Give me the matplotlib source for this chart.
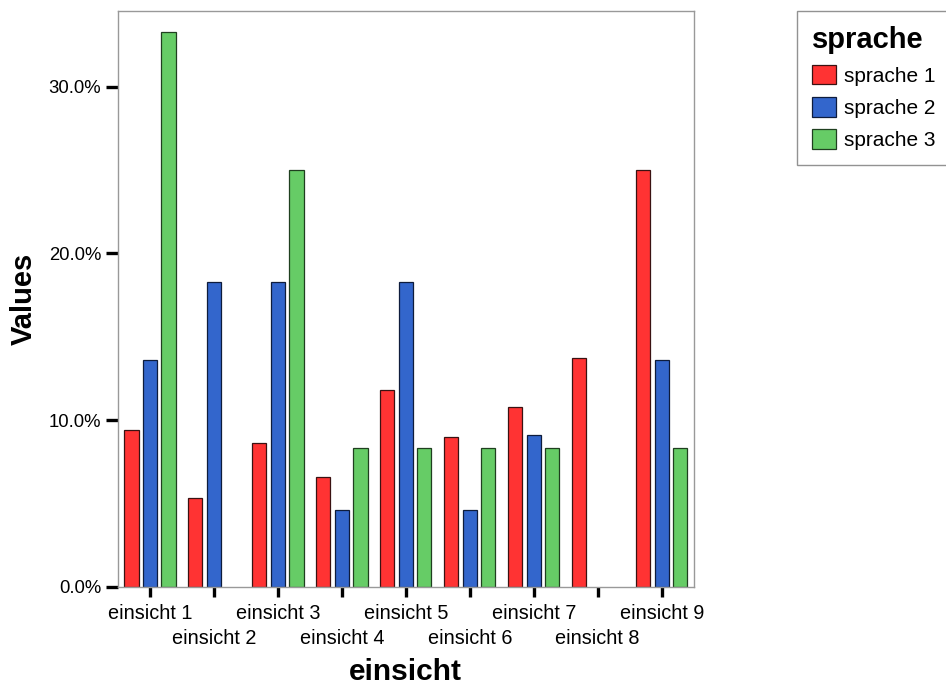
import matplotlib.pyplot as plt
import numpy as np
from matplotlib.ticker import FuncFormatter

plt.rcParams['font.family'] = ['Liberation Sans', 'DejaVu Sans']

categories = ['einsicht 1', 'einsicht 2', 'einsicht 3', 'einsicht 4', 'einsicht 5',
              'einsicht 6', 'einsicht 7', 'einsicht 8', 'einsicht 9']
series = ['sprache 1', 'sprache 2', 'sprache 3']
sprache1 = [9.4, 5.3, 8.6, 6.6, 11.8, 9.0, 10.8, 13.7, 25.0]
sprache2 = [13.6, 18.3, 18.3, 4.6, 18.3, 4.6, 9.1, 0.0, 13.6]
sprache3 = [33.3, 0.0, 25.0, 8.3, 8.3, 8.3, 8.3, 0.0, 8.3]
yticks = [0, 10, 20, 30]

colors = ['#ff3333', '#3366cc', '#66cc66']
edges = ['#3a1212', '#0e1c3c', '#1f3f1f']

fig = plt.figure(figsize=(9.46, 6.86), dpi=100)
ax = fig.add_axes([0.1247, 0.1448, 0.6086, 0.8396])

x = np.arange(len(categories))
offsets = [-0.29, 0.0, 0.29]
bars = []
for vals, off, c, ec, name in zip([sprache1, sprache2, sprache3], offsets, colors, edges, series):
    b = ax.bar(x + off, vals, width=0.222, color=c, edgecolor=ec, linewidth=0.9, label=name)
    # empty cells are not drawn at all
    for rect, v in zip(b, vals):
        if v == 0:
            rect.set_visible(False)
    bars.append(b)

ax.set_xlim(-0.5, 8.5)
ax.set_ylim(0, 34.56)
ax.set_yticks(yticks)
ax.yaxis.set_major_formatter(FuncFormatter(lambda v, p: '%.1f%%' % v))
ax.set_xticks(x)
ax.set_xticklabels(categories)

for s in ax.spines.values():
    s.set_color('#999999')
    s.set_linewidth(1.0)

ax.tick_params(axis='y', length=9, width=2.4, color='black', labelsize=13.3, pad=3)
ax.tick_params(axis='x', length=7, width=2.4, color='black', labelsize=14.3, pad=5.5)
# staggered category labels
for t in ax.xaxis.get_major_ticks()[1::2]:
    t.set_pad(23.5)

ax.set_ylabel('Values', fontsize=21, fontweight='bold', labelpad=8)
ax.set_xlabel('einsicht', fontsize=21.5, fontweight='bold', va='center')
ax.xaxis.set_label_coords(0.5, -0.148)

leg = fig.legend(handles=bars, labels=series, loc='upper left',
                 bbox_to_anchor=(0.8425, 0.984), borderaxespad=0, title='sprache',
                 fontsize=15, title_fontsize=21, frameon=True, fancybox=False,
                 handlelength=1.15, handleheight=1.05, handletextpad=0.42,
                 labelspacing=0.55, borderpad=0.7, alignment='left')
leg.get_title().set_fontweight('bold')
leg.get_frame().set_edgecolor('#777777')
leg.get_frame().set_linewidth(1.0)

fig.savefig('out.png', dpi=100)
